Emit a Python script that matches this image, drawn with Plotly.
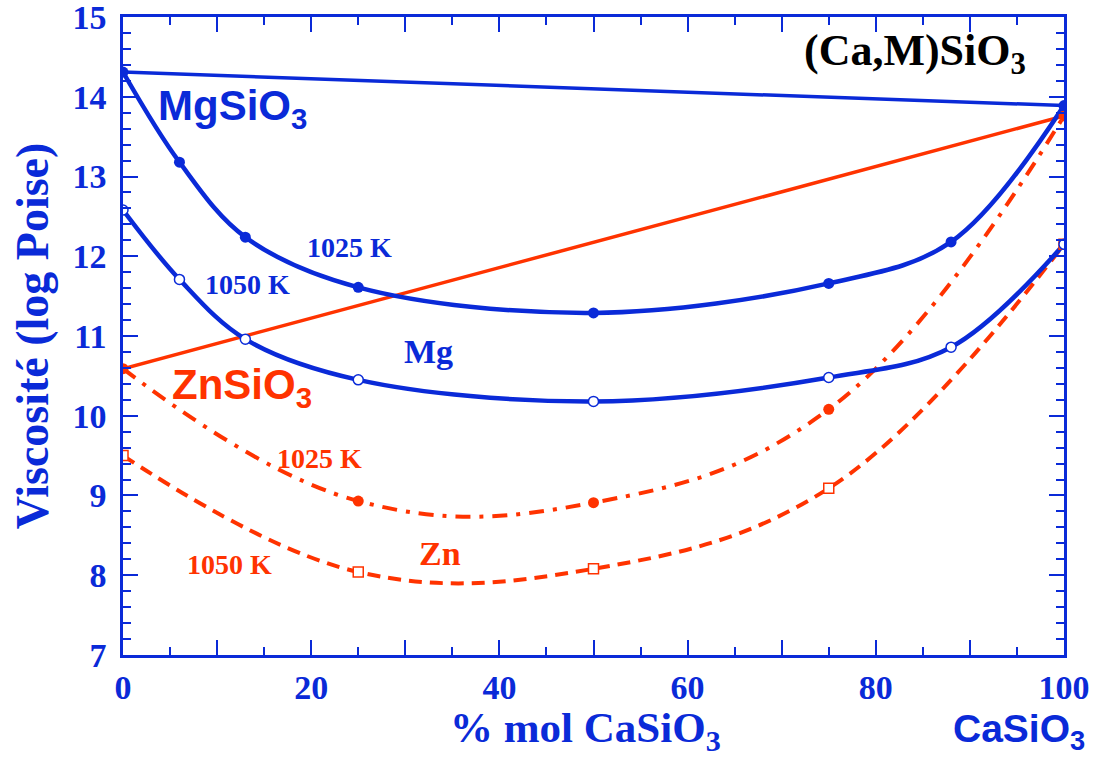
import plotly.graph_objects as go

BLUE = "#0a2ad8"
RED = "#ff3300"

# Data
x_mg = [0, 6, 13, 25, 50, 75, 88, 100]
mg_1025 = [14.31, 13.18, 12.24, 11.61, 11.29, 11.66, 12.18, 13.89]
mg_1050 = [12.58, 11.71, 10.96, 10.45, 10.18, 10.48, 10.86, 12.15]

x_zn = [0, 25, 50, 75, 100]
zn_1025 = [10.59, 8.93, 8.91, 10.08, 13.76]
zn_1050 = [9.50, 8.04, 8.08, 9.09, 12.15]

x_end = [0, 100]
mg_line = [14.31, 13.89]
zn_line = [10.59, 13.76]

x_tickvals = [0, 10, 20, 30, 40, 50, 60, 70, 80, 90, 100]
x_ticktext = ["0", "", "20", "", "40", "", "60", "", "80", "", "100"]
y_tickvals = [7, 8, 9, 10, 11, 12, 13, 14, 15]
y_ticktext = ["7", "8", "9", "10", "11", "12", "13", "14", "15"]

fig = go.Figure()

# straight end-member lines
fig.add_trace(go.Scatter(x=x_end, y=mg_line, mode="lines",
                         line=dict(color=BLUE, width=3.5), showlegend=False))
fig.add_trace(go.Scatter(x=x_end, y=zn_line, mode="lines",
                         line=dict(color=RED, width=3.5), showlegend=False))

# Zn curves
fig.add_trace(go.Scatter(x=x_zn, y=zn_1025, mode="lines",
                         line=dict(color=RED, width=4, shape="spline", smoothing=1.15,
                                   dash="15px,9px,4px,9px"), showlegend=False))
fig.add_trace(go.Scatter(x=x_zn, y=zn_1050, mode="lines",
                         line=dict(color=RED, width=4, shape="spline", smoothing=1.1,
                                   dash="13px,8px"), showlegend=False))

# Mg curves
fig.add_trace(go.Scatter(x=x_mg, y=mg_1025, mode="lines",
                         line=dict(color=BLUE, width=4.5, shape="spline", smoothing=1.0),
                         showlegend=False))
fig.add_trace(go.Scatter(x=x_mg, y=mg_1050, mode="lines",
                         line=dict(color=BLUE, width=4.5, shape="spline", smoothing=1.0),
                         showlegend=False))

# markers
fig.add_trace(go.Scatter(x=x_zn, y=zn_1025, mode="markers",
                         marker=dict(color=RED, size=11, symbol="circle"), showlegend=False))
fig.add_trace(go.Scatter(x=x_zn, y=zn_1050, mode="markers",
                         marker=dict(color="white", size=10, symbol="square",
                                     line=dict(color=RED, width=1.5)), showlegend=False))
fig.add_trace(go.Scatter(x=x_mg, y=mg_1025, mode="markers",
                         marker=dict(color=BLUE, size=11, symbol="circle"), showlegend=False))
fig.add_trace(go.Scatter(x=x_mg, y=mg_1050, mode="markers",
                         marker=dict(color="white", size=10, symbol="circle",
                                     line=dict(color=BLUE, width=1.5)), showlegend=False))

SERIF = "Liberation Serif"
SANS = "Liberation Sans"

def ann(text, x, y, color, size, family=SERIF, xanchor="left", xref="x", yref="y",
        yanchor="middle", borderpad=1):
    fig.add_annotation(text=text, x=x, y=y, xref=xref, yref=yref, showarrow=False,
                       xanchor=xanchor, yanchor=yanchor, borderpad=borderpad,
                       font=dict(color=color, size=size, family=family, weight="bold"))

ann("(Ca,M)SiO<sub>3</sub>", 84.2, 14.54, "black", 44, xanchor="center")
ann("MgSiO<sub>3</sub>", 3.5, 13.85, BLUE, 42, family=SANS)
ann("1025 K", 19.3, 12.11, BLUE, 28)
ann("1050 K", 8.5, 11.64, BLUE, 28)
ann("Mg", 29.6, 10.8, BLUE, 34)
ann("ZnSiO<sub>3</sub>", 5.0, 10.35, RED, 42, family=SANS)
ann("1025 K", 16.2, 9.46, RED, 28)
ann("1050 K", 6.6, 8.13, RED, 28)
ann("Zn", 31.2, 8.27, RED, 34)
# axis label texts below the x axis
ann("CaSiO<sub>3</sub>", 0.952, -0.16, BLUE, 39, family=SANS, xanchor="center",
    xref="paper", yref="paper", yanchor="bottom", borderpad=0)
ann("% mol CaSiO<sub>3</sub>", 0.492, -0.163, BLUE, 43, xanchor="center",
    xref="paper", yref="paper", yanchor="bottom", borderpad=0)

axis_common = dict(showline=True, linecolor=BLUE, linewidth=2.5, mirror="allticks",
                   ticks="inside", tickcolor=BLUE, tickwidth=2, ticklen=15,
                   showgrid=False, zeroline=False, ticklabeloverflow="allow",
                   automargin=False,
                   tickfont=dict(color=BLUE, size=34, family=SERIF, weight="bold"))

fig.update_xaxes(range=[0, 100], tickmode="array", tickvals=x_tickvals, ticktext=x_ticktext,
                 minor=dict(ticks="inside", dtick=5, ticklen=8, tickcolor=BLUE, tickwidth=2),
                 ticklabelstandoff=0,
                 **axis_common)
fig.update_yaxes(range=[6.999, 15.001], tickmode="array", tickvals=y_tickvals,
                 ticktext=y_ticktext, ticklabelstandoff=7,
                 minor=dict(ticks="inside", dtick=0.2, ticklen=8, tickcolor=BLUE, tickwidth=2),
                 title=dict(text="Viscosité (log Poise)", standoff=10,
                            font=dict(color=BLUE, size=46, family=SERIF, weight="bold")),
                 **axis_common)

fig.update_layout(width=1099, height=758,
                  margin=dict(l=123, r=35, t=17, b=103),
                  plot_bgcolor="white", paper_bgcolor="white",
                  font=dict(family=SERIF, color=BLUE))

fig.write_html("out.html")
